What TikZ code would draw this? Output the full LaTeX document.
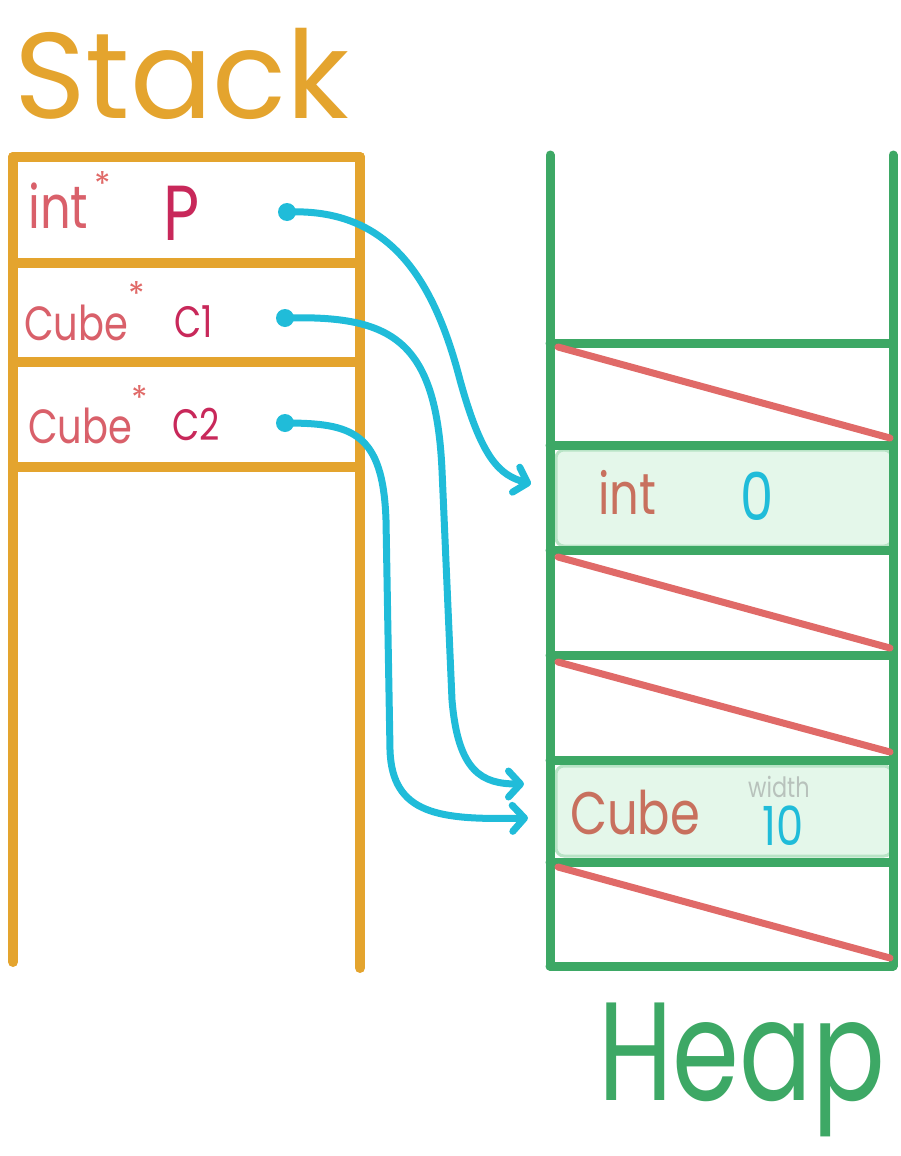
\documentclass[tikz,border=0pt]{standalone}
\usepackage{fontspec}
\usetikzlibrary{arrows.meta}
\newfontfamily\hand{Poppins}
\newfontfamily\handn[FakeStretch=0.8]{Poppins}
\definecolor{stackc}{HTML}{E4A42E}
\definecolor{heapc}{HTML}{3DA865}
\definecolor{diagc}{HTML}{E06A68}
\definecolor{ptrc}{HTML}{20BCD9}
\definecolor{varc}{HTML}{C8285A}
\definecolor{typec}{HTML}{D9606A}
\definecolor{htypec}{HTML}{C8705E}
\definecolor{cellfill}{HTML}{E4F7EA}
\definecolor{celledge}{HTML}{B8E4C6}
\definecolor{greyc}{HTML}{B8C2BC}
\tikzset{
  stackline/.style={draw=stackc, line width=10pt, line cap=round},
  heapline/.style={draw=heapc, line width=9pt, line cap=round},
  diagline/.style={draw=diagc, line width=7pt, line cap=round},
  cellbox/.style={fill=cellfill, draw=celledge, line width=3pt, rounded corners=8pt},
  lbl/.style={inner sep=0pt, anchor=base west},
  ptrdot/.style={circle, fill=ptrc, inner sep=0pt, minimum size=18pt},
  ptr/.style={draw=ptrc, line width=7pt, line cap=round, line join=round,
    -{Straight Barb[length=12pt,width=26pt,round]}},
}
\begin{document}
\begin{tikzpicture}[x=1pt,y=-1pt]
\useasboundingbox (0,0) rectangle (900,1156);

% titles
\node[lbl, text=stackc] (stackt) at (14,118) {\hand\fontsize{122}{122}\selectfont Stack};
\node[lbl, text=heapc] (heapt) at (598,1100) {\scalebox{0.77}[1]{\hand\fontsize{140}{140}\selectfont Heap}};

% heap highlighted cells
\path[cellbox] (556,450) rectangle (892,546);
\path[cellbox] (556,766) rectangle (892,856);

% stack frame
\draw[stackline] (13,157) -- (13,962);
\draw[stackline] (360,157) -- (360,968);
\draw[stackline] (13,157) -- (360,157);
\draw[stackline] (13,263) -- (360,263);
\draw[stackline] (13,362) -- (360,362);
\draw[stackline] (13,467) -- (360,467);

% heap frame
\draw[heapline] (550,155) -- (550,966);
\draw[heapline] (893,155) -- (893,966);
\foreach \yy in {343,445,550,655,760,862,966}
  \draw[heapline] (550,\yy) -- (893,\yy);

% free-space diagonals
\draw[diagline] (558,347) -- (890,438);
\draw[diagline] (558,557) -- (890,648);
\draw[diagline] (558,662) -- (890,752);
\draw[diagline] (558,867) -- (890,958);

% stack labels
\node[lbl, text=typec] (s1t) at (28,228) {\handn\fontsize{60}{60}\selectfont int};
\node[lbl, text=diagc] (s1a) at (94,196) {\hand\fontsize{34}{34}\selectfont *};
\node[lbl, text=varc] (s1v) at (163,240) {\handn\fontsize{78}{78}\selectfont P};

\node[lbl, text=typec] (s2t) at (24,340) {\handn\fontsize{48}{48}\selectfont Cube};
\node[lbl, text=diagc] (s2a) at (128,306) {\hand\fontsize{34}{34}\selectfont *};
\node[lbl, text=varc] (s2v) at (174,337) {\handn\fontsize{44}{44}\selectfont C1};

\node[lbl, text=typec] (s3t) at (28,443) {\handn\fontsize{48}{48}\selectfont Cube};
\node[lbl, text=diagc] (s3a) at (131,410) {\hand\fontsize{34}{34}\selectfont *};
\node[lbl, text=varc] (s3v) at (172,440) {\handn\fontsize{44}{44}\selectfont C2};

% heap labels
\node[lbl, text=htypec] (h1t) at (598,514) {\handn\fontsize{58}{58}\selectfont int};
\node[lbl, text=ptrc] (h1v) at (740,520) {\handn\fontsize{66}{66}\selectfont 0};
\node[lbl, text=htypec] (h2t) at (570,834) {\handn\fontsize{60}{60}\selectfont Cube};
\node[lbl, text=greyc] (h2f) at (748,797) {\handn\fontsize{28}{28}\selectfont width};
\node[lbl, text=ptrc] (h2v) at (762,845) {\handn\fontsize{54}{54}\selectfont 10};

% pointer dots
\node[ptrdot] (dP) at (287,212) {};
\node[ptrdot] (dC1) at (285,318) {};
\node[ptrdot] (dC2) at (285,423) {};

% targets
\coordinate (tP) at (531,484);
\coordinate (tC1) at (524,784);
\coordinate (tC2) at (528,818);

% pointers
\draw[ptr] (dP.center) .. controls (385,208) and (432,272) .. (460,380)
  .. controls (482,460) and (500,475) .. (tP);
\draw[ptr] (dC1.center) .. controls (392,315) and (436,340) .. (442,470)
  -- (452,700) .. controls (458,772) and (482,784) .. (tC1);
\draw[ptr] (dC2.center) .. controls (352,423) and (383,432) .. (386,520)
  -- (390,750) .. controls (392,815) and (440,820) .. (tC2);
\end{tikzpicture}
\end{document}
